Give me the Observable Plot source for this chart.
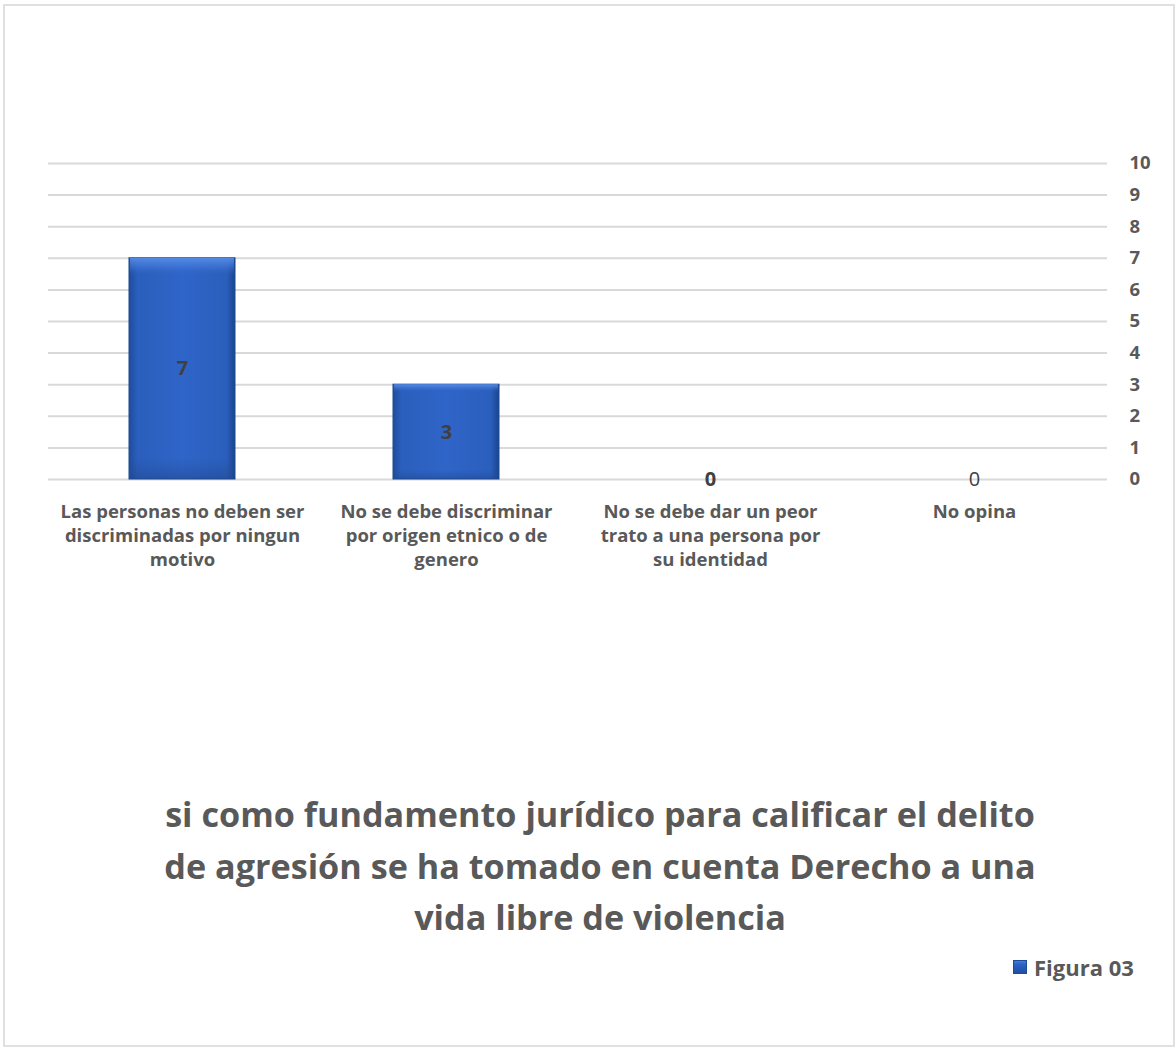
<!DOCTYPE html>
<html>
<head>
<meta charset="utf-8">
<script src="https://cdn.jsdelivr.net/npm/d3@7"></script>
<script src="https://cdn.jsdelivr.net/npm/@observablehq/plot@0.6"></script>
<style>
  body { margin: 0; background: #fff; }
  #wrap { position: relative; width: 1176px; height: 1049px; overflow: hidden; font-family: "Open Sans", Lato, sans-serif; }
  #frame { position: absolute; left: 3px; top: 4px; width: 1168px; height: 1039px; border: 2px solid #e0e0e0; }
  #chart { position: absolute; left: 0; top: 0; }
  #title { position: absolute; left: 0; width: 1200px; top: 788px; text-align: center; font-weight: 700; font-size: 34.2px; line-height: 51.5px; color: #595959; }
  #legend { position: absolute; left: 1013px; top: 952px; font-weight: 700; font-size: 22px; color: #595959; display: flex; align-items: center; }
  #legend .sw { width: 14px; height: 14px; margin-right: 7px; background: linear-gradient(180deg, #4a82e2 0%, #2d63c6 30%, #1f4d9e 100%); box-shadow: inset 0 0 0 1px #1d4a94; }
</style>
</head>
<body>
<div id="wrap">
  <div id="frame"></div>
  <div id="chart"></div>
  <div id="title">si como fundamento jurídico para calificar el delito<br>de agresión se ha tomado en cuenta Derecho a una<br>vida libre de violencia</div>
  <div id="legend"><span class="sw"></span><span>Figura 03</span></div>
</div>
<script>
const categories = [
  "Las personas no deben ser discriminadas por ningun motivo",
  "No se debe discriminar por origen etnico o de genero",
  "No se debe dar un peor trato a una persona por su identidad",
  "No opina"
];
const categoryLabels = [
  "Las personas no deben ser\ndiscriminadas por ningun\nmotivo",
  "No se debe discriminar\npor origen etnico o de\ngenero",
  "No se debe dar un peor\ntrato a una persona por\nsu identidad",
  "No opina"
];
const values = [7, 3, 0, 0];
const yTicks = [0, 1, 2, 3, 4, 5, 6, 7, 8, 9, 10];

const data = categories.map((c, i) => ({ category: c, value: values[i], idx: i }));
const labelMap = new Map(categories.map((c, i) => [c, categoryLabels[i]]));

const chart = Plot.plot({
  width: 1176,
  height: 640,
  marginLeft: 48,
  marginRight: 69,
  marginTop: 163,
  marginBottom: 161,
  style: { fontFamily: "'Open Sans', Lato, sans-serif", background: "transparent" },
  x: { domain: categories, paddingInner: 0.6, paddingOuter: 0.3, label: null },
  y: { domain: [0, 10], label: null },
  marks: [
    Plot.gridY(yTicks, { stroke: "#d9d9d9", strokeOpacity: 1, strokeWidth: 2 }),
    Plot.barY(data, { x: "category", y: "value", fill: "url(#barGrad)", stroke: "#1d4a94", strokeWidth: 1 }),
    Plot.barY(data, { x: "category", y: "value", fill: "url(#barTop)", insetLeft: 1, insetRight: 1 }),
    Plot.axisY(yTicks, { anchor: "right", tickSize: 0, tickPadding: 22, textAnchor: "start", fontSize: 18.5, fontWeight: "bold", fill: "#595959", label: null }),
    Plot.axisX({ tickSize: 0, tickPadding: 21, fontSize: 18.5, fontWeight: "bold", fill: "#595959", lineHeight: 1.3, tickFormat: d => labelMap.get(d), label: null }),
    Plot.text(data.filter(d => d.idx !== 3), { x: "category", y: d => d.value / 2, text: d => String(d.value), fontSize: 20, fontWeight: "bold", fill: "#404040" }),
    Plot.text(data.filter(d => d.idx === 3), { x: "category", y: d => d.value / 2, text: d => String(d.value), fontSize: 20, fontWeight: "normal", fill: "#404040" })
  ]
});

// gradient defs for the bevelled blue bars
const ns = "http://www.w3.org/2000/svg";
const defs = document.createElementNS(ns, "defs");
defs.innerHTML = `
  <linearGradient id="barGrad" x1="0" y1="0" x2="1" y2="0">
    <stop offset="0" stop-color="#1f4d9c"/>
    <stop offset="0.08" stop-color="#2b5fbd"/>
    <stop offset="0.5" stop-color="#2f65c8"/>
    <stop offset="0.92" stop-color="#2b5fbd"/>
    <stop offset="1" stop-color="#1b458c"/>
  </linearGradient>
  <linearGradient id="barTop" x1="0" y1="0" x2="0" y2="1">
    <stop offset="0" stop-color="#5a90ea" stop-opacity="0.9"/>
    <stop offset="0.04" stop-color="#4a80e0" stop-opacity="0.5"/>
    <stop offset="0.08" stop-color="#2f65c8" stop-opacity="0"/>
    <stop offset="0.9" stop-color="#244f9e" stop-opacity="0"/>
    <stop offset="1" stop-color="#1e4488" stop-opacity="0.5"/>
  </linearGradient>`;
chart.insertBefore(defs, chart.firstChild);
document.getElementById("chart").appendChild(chart);
</script>
</body>
</html>
